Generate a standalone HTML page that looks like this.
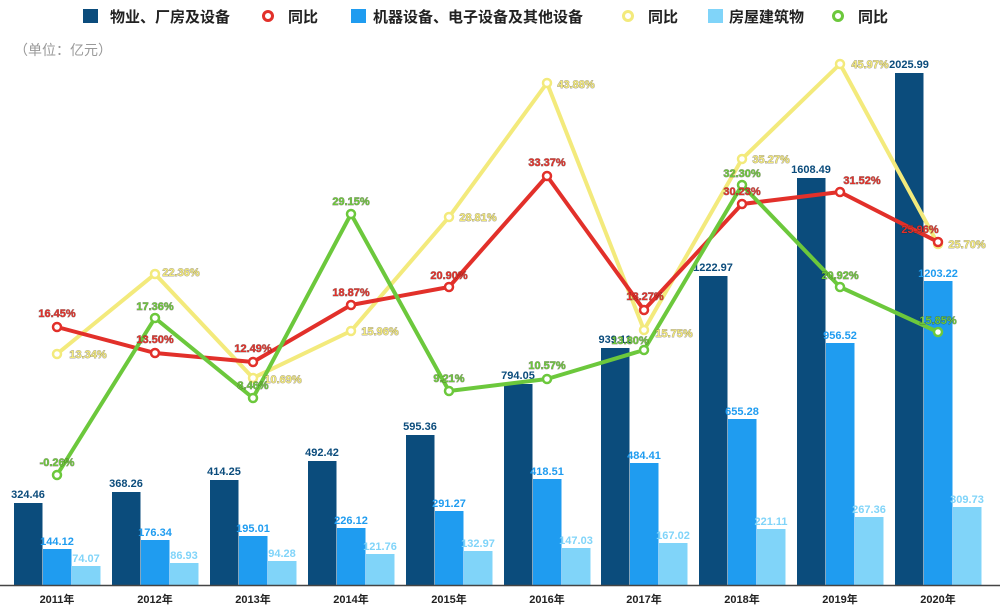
<!DOCTYPE html>
<html><head><meta charset="utf-8"><style>
html,body{margin:0;padding:0;background:#fff}
svg{display:block;font-family:"Liberation Sans","Noto Sans CJK SC",sans-serif}
.v{font-size:11px;font-weight:bold;text-anchor:middle}
.p{font-size:11px;font-weight:bold;text-anchor:middle;stroke:rgba(40,30,20,.55);stroke-width:.7px;paint-order:stroke}
</style></head><body>
<svg width="1000" height="609" viewBox="0 0 1000 609">
<g font-size="15" font-weight="bold" fill="#222">
<rect x="83" y="9" width="15" height="14" fill="#0b4c7c"/><text x="110" y="22">物业、厂房及设备</text>
<circle cx="268" cy="16" r="4.5" fill="#fff" stroke="#e2302a" stroke-width="3"/><text x="288" y="22">同比</text>
<rect x="351" y="9" width="15" height="14" fill="#1f9cf0"/><text x="373" y="22">机器设备、电子设备及其他设备</text>
<circle cx="628" cy="16" r="4.5" fill="#fff" stroke="#f3ea7c" stroke-width="3"/><text x="648" y="22">同比</text>
<rect x="708" y="9" width="15" height="14" fill="#80d4f9"/><text x="729" y="22">房屋建筑物</text>
<circle cx="838" cy="16" r="4.5" fill="#fff" stroke="#6cc83c" stroke-width="3"/><text x="858" y="22">同比</text>
</g>
<text x="14" y="55" font-size="14" fill="#999">（单位：亿元）</text>
<g fill="#0b4c7c">
<rect x="14" y="503" width="28.5" height="82"/><rect x="112" y="492" width="28.5" height="93"/><rect x="210" y="480" width="28.5" height="105"/><rect x="308" y="461" width="28.5" height="124"/><rect x="406" y="435" width="28.5" height="150"/><rect x="504" y="384" width="28.5" height="201"/><rect x="601" y="348" width="28.5" height="237"/><rect x="699" y="276" width="28.5" height="309"/><rect x="797" y="178" width="28.5" height="407"/><rect x="895" y="73" width="28.5" height="512"/>
</g>
<g fill="#1f9cf0">
<rect x="43" y="549" width="28.5" height="36"/><rect x="141" y="540" width="28.5" height="45"/><rect x="239" y="536" width="28.5" height="49"/><rect x="337" y="528" width="28.5" height="57"/><rect x="435" y="511" width="28.5" height="74"/><rect x="533" y="479" width="28.5" height="106"/><rect x="630" y="463" width="28.5" height="122"/><rect x="728" y="419" width="28.5" height="166"/><rect x="826" y="343" width="28.5" height="242"/><rect x="924" y="281" width="28.5" height="304"/>
</g>
<g fill="#80d4f9">
<rect x="72" y="566" width="28.5" height="19"/><rect x="170" y="563" width="28.5" height="22"/><rect x="268" y="561" width="28.5" height="24"/><rect x="366" y="554" width="28.5" height="31"/><rect x="464" y="551" width="28.5" height="34"/><rect x="562" y="548" width="28.5" height="37"/><rect x="659" y="543" width="28.5" height="42"/><rect x="757" y="529" width="28.5" height="56"/><rect x="855" y="517" width="28.5" height="68"/><rect x="953" y="507" width="28.5" height="78"/>
</g>
<line x1="0" y1="585.5" x2="1000" y2="585.5" stroke="#444" stroke-width="1.5"/>
<g class="v" fill="#0b4c7c">
<text x="28" y="498">324.46</text><text x="126" y="487">368.26</text><text x="224" y="475">414.25</text><text x="322" y="456">492.42</text><text x="420" y="430">595.36</text><text x="518" y="379">794.05</text><text x="615" y="343">939.11</text><text x="713" y="271">1222.97</text><text x="811" y="173">1608.49</text><text x="909" y="68">2025.99</text>
</g>
<g class="v" fill="#1f9cf0">
<text x="57" y="545">144.12</text><text x="155" y="536">176.34</text><text x="253" y="532">195.01</text><text x="351" y="524">226.12</text><text x="449" y="507">291.27</text><text x="547" y="475">418.51</text><text x="644" y="459">484.41</text><text x="742" y="415">655.28</text><text x="840" y="339">956.52</text><text x="938" y="277">1203.22</text>
</g>
<g class="v" fill="#80d4f9">
<text x="86" y="562">74.07</text><text x="184" y="559">86.93</text><text x="282" y="557">94.28</text><text x="380" y="550">121.76</text><text x="478" y="547">132.97</text><text x="576" y="544">147.03</text><text x="673" y="539">167.02</text><text x="771" y="525">221.11</text><text x="869" y="513">267.36</text><text x="967" y="503">309.73</text>
</g>
<g class="v" fill="#222" font-size="11">
<text x="57" y="603">2011年</text><text x="155" y="603">2012年</text><text x="253" y="603">2013年</text><text x="351" y="603">2014年</text><text x="449" y="603">2015年</text><text x="547" y="603">2016年</text><text x="644" y="603">2017年</text><text x="742" y="603">2018年</text><text x="840" y="603">2019年</text><text x="938" y="603">2020年</text>
</g>
<g fill="#fff" stroke-width="4" stroke-linejoin="round">
<polyline fill="none" stroke="#f3ea7c" points="57,354 155,274 253,378 351,331 449,217 547,83 644,330 742,159 840,64 938,244"/>
<polyline fill="none" stroke="#e2302a" points="57,327 155,353 253,362 351,305 449,287 547,176 644,310 742,204 840,192 938,242"/>
<polyline fill="none" stroke="#6cc83c" points="57,475 155,318 253,398 351,214 449,391 547,379 644,350 742,185 840,287 938,332"/>
<g stroke="#f3ea7c" stroke-width="2.5"><circle cx="57" cy="354" r="4"/><circle cx="155" cy="274" r="4"/><circle cx="253" cy="378" r="4"/><circle cx="351" cy="331" r="4"/><circle cx="449" cy="217" r="4"/><circle cx="547" cy="83" r="4"/><circle cx="644" cy="330" r="4"/><circle cx="742" cy="159" r="4"/><circle cx="840" cy="64" r="4"/><circle cx="938" cy="244" r="4"/></g>
<g stroke="#e2302a" stroke-width="2.5"><circle cx="57" cy="327" r="4"/><circle cx="155" cy="353" r="4"/><circle cx="253" cy="362" r="4"/><circle cx="351" cy="305" r="4"/><circle cx="449" cy="287" r="4"/><circle cx="547" cy="176" r="4"/><circle cx="644" cy="310" r="4"/><circle cx="742" cy="204" r="4"/><circle cx="840" cy="192" r="4"/><circle cx="938" cy="242" r="4"/></g>
<g stroke="#6cc83c" stroke-width="2.5"><circle cx="57" cy="475" r="4"/><circle cx="155" cy="318" r="4"/><circle cx="253" cy="398" r="4"/><circle cx="351" cy="214" r="4"/><circle cx="449" cy="391" r="4"/><circle cx="547" cy="379" r="4"/><circle cx="644" cy="350" r="4"/><circle cx="742" cy="185" r="4"/><circle cx="840" cy="287" r="4"/><circle cx="938" cy="332" r="4"/></g>
</g>
<g class="p" fill="#e2302a">
<text x="57" y="317">16.45%</text><text x="155" y="343">13.50%</text><text x="253" y="352">12.49%</text><text x="351" y="296">18.87%</text><text x="449" y="279">20.90%</text><text x="547" y="166">33.37%</text><text x="645" y="300">18.27%</text><text x="742" y="195">30.23%</text><text x="862" y="184">31.52%</text><text x="920" y="233">25.96%</text>
</g>
<g class="p" fill="#f3ea7c">
<text x="88" y="358">13.34%</text><text x="181" y="276">22.36%</text><text x="283" y="383">10.69%</text><text x="380" y="335">15.96%</text><text x="478" y="221">28.81%</text><text x="576" y="88">43.88%</text><text x="674" y="337">15.75%</text><text x="771" y="163">35.27%</text><text x="870" y="68">45.97%</text><text x="967" y="248">25.70%</text>
</g>
<g class="p" fill="#6cc83c">
<text x="57" y="466">-0.26%</text><text x="155" y="310">17.36%</text><text x="253" y="389">8.46%</text><text x="351" y="205">29.15%</text><text x="449" y="382">9.21%</text><text x="547" y="369">10.57%</text><text x="630" y="344">13.80%</text><text x="742" y="177">32.30%</text><text x="840" y="279">20.92%</text><text x="938" y="324">15.85%</text>
</g>
</svg>
</body></html>
